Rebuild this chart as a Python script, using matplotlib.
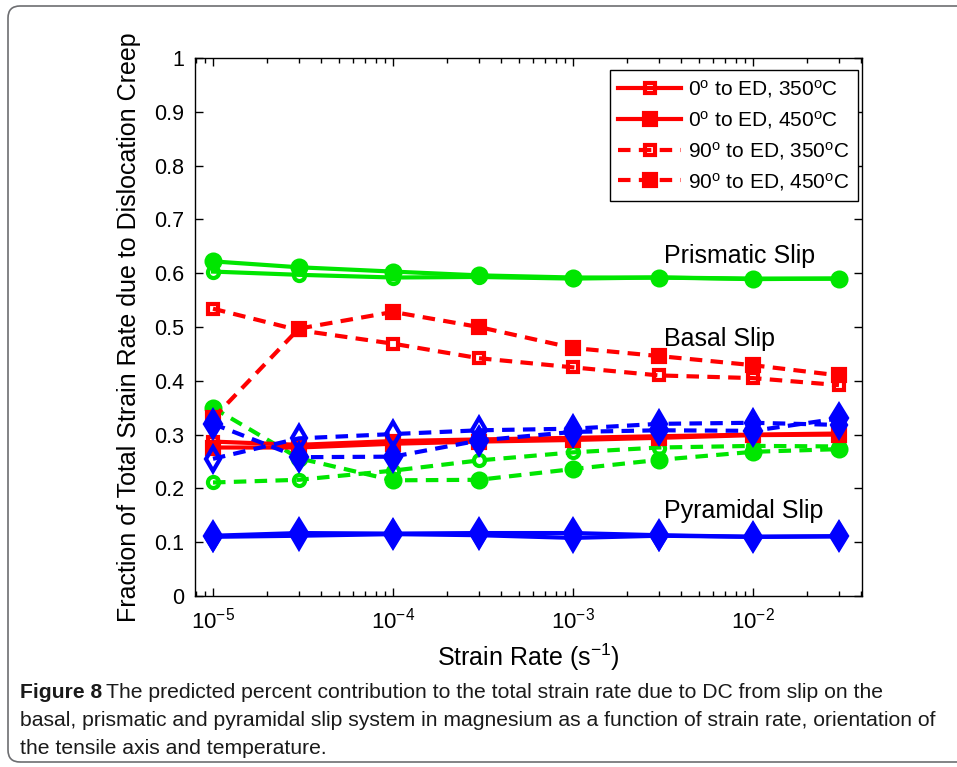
import matplotlib
matplotlib.use('Agg')
import matplotlib.pyplot as plt
import matplotlib as mpl
from matplotlib.patches import FancyBboxPatch
from matplotlib.lines import Line2D
import numpy as np

plt.rcParams['font.family'] = ['Liberation Sans', 'DejaVu Sans']
plt.rcParams['mathtext.fontset'] = 'custom'
plt.rcParams['mathtext.rm'] = 'Liberation Sans'
plt.rcParams['mathtext.it'] = 'Liberation Sans:italic'
plt.rcParams['mathtext.bf'] = 'Liberation Sans:bold'

# strain rates (1/s)
rate = [1e-5, 3e-5, 1e-4, 3e-4, 1e-3, 3e-3, 1e-2, 3e-2]

# basal slip fraction
basal_0_350 = [0.287, 0.281, 0.288, 0.291, 0.294, 0.297, 0.300, 0.302]
basal_0_450 = [0.276, 0.276, 0.283, 0.287, 0.290, 0.294, 0.299, 0.300]
basal_90_350 = [0.534, 0.494, 0.469, 0.442, 0.425, 0.410, 0.405, 0.392]
basal_90_450 = [0.330, 0.497, 0.528, 0.500, 0.461, 0.446, 0.429, 0.410]

# prismatic slip fraction
prism_0_350 = [0.603, 0.597, 0.592, 0.593, 0.590, 0.592, 0.590, 0.590]
prism_0_450 = [0.622, 0.611, 0.603, 0.596, 0.592, 0.592, 0.589, 0.590]
prism_90_350 = [0.211, 0.216, 0.233, 0.252, 0.267, 0.276, 0.279, 0.278]
prism_90_450 = [0.350, 0.256, 0.215, 0.216, 0.236, 0.253, 0.268, 0.273]

# pyramidal slip fraction
pyr_0_350 = [0.110, 0.112, 0.115, 0.113, 0.108, 0.112, 0.110, 0.111]
pyr_0_450 = [0.112, 0.117, 0.116, 0.117, 0.117, 0.113, 0.110, 0.111]
pyr_90_350 = [0.255, 0.293, 0.301, 0.308, 0.311, 0.320, 0.322, 0.318]
pyr_90_450 = [0.320, 0.258, 0.259, 0.289, 0.305, 0.308, 0.307, 0.330]

legend_labels = [r'0$^{\mathrm{o}}$ to ED, 350$^{\mathrm{o}}$C',
                 r'0$^{\mathrm{o}}$ to ED, 450$^{\mathrm{o}}$C',
                 r'90$^{\mathrm{o}}$ to ED, 350$^{\mathrm{o}}$C',
                 r'90$^{\mathrm{o}}$ to ED, 450$^{\mathrm{o}}$C']

caption_head = 'Figure 8'
caption_lines = ['The predicted percent contribution to the total strain rate due to DC from slip on the',
                 'basal, prismatic and pyramidal slip system in magnesium as a function of strain rate, orientation of',
                 'the tensile axis and temperature.']

red = '#ff0000'
green = '#00e600'
blue = '#0000ff'

fig = plt.figure(figsize=(9.57, 7.67), dpi=100)

# rounded frame around figure + caption
frame = FancyBboxPatch((8, 5), 980, 756, boxstyle='round,pad=0,rounding_size=12',
                       transform=mpl.transforms.IdentityTransform(),
                       facecolor='none', edgecolor='#6d6e71', lw=1.2)
fig.patches.append(frame)

ax = fig.add_axes([195/957, 1-596/767, (862-195)/957, (596-58)/767])

dash = (3, 2)
lw = 3

# marker sizes: (open, filled)
sizes = {'o': (8, 10), 's': (7, 9), 'd': (12, 13)}


def series(y, color, marker, filled, dashed):
    ms = sizes[marker][1] if filled else sizes[marker][0]
    kw = dict(color=color, lw=lw, marker=marker, ms=ms, mew=lw,
              mfc=color if filled else 'none', mec=color)
    if dashed:
        kw['ls'] = '--'
        kw['dashes'] = dash
    ax.plot(rate, y, **kw)


# prismatic (green circles)
series(prism_0_350, green, 'o', False, False)
series(prism_0_450, green, 'o', True, False)
series(prism_90_350, green, 'o', False, True)
series(prism_90_450, green, 'o', True, True)
# basal (red squares)
series(basal_0_350, red, 's', False, False)
series(basal_0_450, red, 's', True, False)
series(basal_90_350, red, 's', False, True)
series(basal_90_450, red, 's', True, True)
# pyramidal (blue diamonds)
series(pyr_0_350, blue, 'd', False, False)
series(pyr_0_450, blue, 'd', True, False)
series(pyr_90_350, blue, 'd', False, True)
series(pyr_90_450, blue, 'd', True, True)

ax.set_xscale('log')
ax.set_xlim(10**-5.1, 10**-1.395)
ax.set_ylim(0, 1)
ax.set_yticks(np.arange(0, 1.01, 0.1))
ax.set_yticklabels(['0', '0.1', '0.2', '0.3', '0.4', '0.5', '0.6', '0.7', '0.8', '0.9', '1'])
ax.tick_params(which='both', direction='in', top=True, right=True, width=1)
ax.tick_params(axis='y', labelsize=15.5)
ax.tick_params(axis='x', labelsize=16)
ax.tick_params(which='major', length=6, pad=8)
ax.tick_params(which='minor', length=3.5)
ax.tick_params(axis='y', which='minor', left=False, right=False)
for s in ax.spines.values():
    s.set_linewidth(1)

ax.set_xlabel(r'Strain Rate (s$^{-1}$)', fontsize=18, labelpad=6)
ax.set_ylabel('Fraction of Total Strain Rate due to Dislocation Creep', fontsize=18, labelpad=9)

lx = 10**-2.494
ax.text(lx, 0.61, 'Prismatic Slip', fontsize=18, ha='left', va='bottom')
ax.text(lx, 0.455, 'Basal Slip', fontsize=18, ha='left', va='bottom')
ax.text(lx, 0.135, 'Pyramidal Slip', fontsize=18, ha='left', va='bottom')

handles = [
    Line2D([], [], color=red, lw=lw, marker='s', ms=7, mew=lw, mfc='none'),
    Line2D([], [], color=red, lw=lw, marker='s', ms=9, mew=lw, mfc=red),
    Line2D([], [], color=red, lw=lw, ls='--', dashes=dash, marker='s', ms=7, mew=lw, mfc='none'),
    Line2D([], [], color=red, lw=lw, ls='--', dashes=dash, marker='s', ms=9, mew=lw, mfc=red),
]
leg = ax.legend(handles, legend_labels, loc='upper right', fontsize=15,
                bbox_to_anchor=(858/957, 1-70/767), bbox_transform=fig.transFigure,
                borderaxespad=0, fancybox=False, framealpha=1, edgecolor='black',
                handlelength=3.0, handletextpad=0.35, labelspacing=0.42,
                borderpad=0.4)
leg.get_frame().set_linewidth(1)

# caption, sized so the longest line fills the frame width
cap_color = '#1a1a1a'
r = fig.canvas.get_renderer()
probe = fig.text(0, 0, caption_lines[1], fontsize=14)
cap_fs = 14 * 922 / probe.get_window_extent(r).width
probe.remove()

t0 = fig.text(20/957, 1-692/767, caption_head, fontsize=cap_fs, fontweight='bold',
              color=cap_color, va='center', ha='left')
w = t0.get_window_extent(r).width
fig.text((20 + w + 4)/957, 1-692/767, caption_lines[0],
         fontsize=cap_fs, color=cap_color, va='center', ha='left')
fig.text(20/957, 1-721/767, caption_lines[1],
         fontsize=cap_fs, color=cap_color, va='center', ha='left')
fig.text(20/957, 1-748/767, caption_lines[2],
         fontsize=cap_fs, color=cap_color, va='center', ha='left')

fig.savefig('out.png', dpi=100)
